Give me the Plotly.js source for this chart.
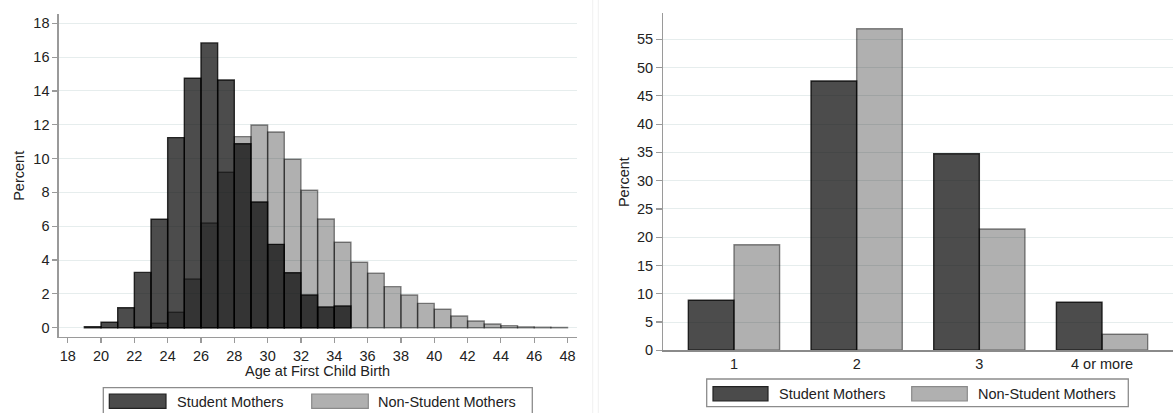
<!DOCTYPE html>
<html>
<head>
<meta charset="utf-8">
<script src="https://cdn.plot.ly/plotly-3.0.1.min.js"></script>
<style>html,body{margin:0;padding:0;background:#fff;}#chart{width:1173px;height:413px;}</style>
</head>
<body>
<div id="chart"></div>
<script>
// ---- Data: left panel (histogram, 1-year bins, value = bin start age) ----
const studentBinStart = [19,20,21,22,23,24,25,26,27,28,29,30,31,32,33,34];
const studentPct      = [0.06,0.32,1.18,3.27,6.41,11.24,14.75,16.84,14.65,10.88,7.43,4.93,3.25,1.93,1.22,1.28];
const nonStudentBinStart = [22,23,24,25,26,27,28,29,30,31,32,33,34,35,36,37,38,39,40,41,42,43,44,45,46,47];
const nonStudentPct      = [0.05,0.26,0.91,2.88,6.19,9.19,11.30,11.99,11.57,9.96,8.13,6.43,5.05,3.87,3.23,2.43,1.93,1.44,1.09,0.69,0.40,0.22,0.12,0.05,0.03,0.02];
const ageTicks = [18,20,22,24,26,28,30,32,34,36,38,40,42,44,46,48];

// ---- Data: right panel (number of children) ----
const childCategories = ['1','2','3','4 or more'];
const studentChildPct    = [8.84,47.62,34.77,8.49];
const nonStudentChildPct = [18.67,56.87,21.45,2.83];

const seriesNames = ['Student Mothers','Non-Student Mothers'];
const xTitleLeft = 'Age at First Child Birth';
const yTitle = 'Percent';

// ---- Styling ----
const W = 1173, H = 413;
const px = v => v / W;
const py = v => 1 - v / H;
const FONT = 'Liberation Sans, Arial, sans-serif';
const FS = 14.5;
const DARK_FILL = 'rgba(0,0,0,0.70)';
const DARK_LINE = 'rgba(0,0,0,0.78)';
const LIGHT_FILL = 'rgba(0,0,0,0.31)';
const LIGHT_LINE = 'rgba(0,0,0,0.45)';
const AXIS = '#9a9a9a';
const GRID = '#e6eded';
const TXT = '#222';
const BARW = 0.372;

const traces = [
  {type:'bar', x: studentBinStart, y: studentPct, offset:0, width:1, xaxis:'x', yaxis:'y',
   marker:{color:DARK_FILL, line:{color:DARK_LINE, width:1.4}}, name: seriesNames[0], showlegend:false},
  {type:'bar', x: nonStudentBinStart, y: nonStudentPct, offset:0, width:1, xaxis:'x', yaxis:'y',
   marker:{color:LIGHT_FILL, line:{color:LIGHT_LINE, width:1.4}}, name: seriesNames[1], showlegend:false},
  {type:'bar', x: childCategories, y: studentChildPct, offset:-BARW, width:BARW, xaxis:'x2', yaxis:'y2',
   marker:{color:DARK_FILL, line:{color:DARK_LINE, width:1.4}}, name: seriesNames[0], showlegend:false},
  {type:'bar', x: childCategories, y: nonStudentChildPct, offset:0, width:BARW, xaxis:'x2', yaxis:'y2',
   marker:{color:LIGHT_FILL, line:{color:LIGHT_LINE, width:1.4}}, name: seriesNames[1], showlegend:false}
];

const axBase = {showline:true, linecolor:AXIS, linewidth:1.3, zeroline:false, fixedrange:true,
  tickfont:{family:FONT, size:FS, color:TXT}, tickcolor:AXIS, tickwidth:1.2};

const shapes = [];
const annotations = [];
function rect(x0,y0,x1,y1,fill,line,lw){
  shapes.push({type:'rect', xref:'paper', yref:'paper', x0:px(x0), x1:px(x1), y0:py(y1), y1:py(y0),
    fillcolor:fill, line:{color:line, width:lw}, layer:'above'});
}
function text(x,y,t,opts){
  annotations.push(Object.assign({xref:'paper', yref:'paper', x:px(x), y:py(y), text:t, showarrow:false,
    font:{family:FONT, size:FS, color:TXT}, xanchor:'left', yanchor:'middle', borderpad:0}, opts||{}));
}
// panel separators
shapes.push({type:'line', xref:'paper', yref:'paper', x0:px(592.7), x1:px(592.7), y0:0, y1:1, line:{color:'#f0f0f0', width:1}});
shapes.push({type:'line', xref:'paper', yref:'paper', x0:px(598.3), x1:px(598.3), y0:0, y1:1, line:{color:'#f0f0f0', width:1}});

// left legend
rect(103.3, 387.7, 532.3, 425, '#ffffff', '#8c8c8c', 1.3);
rect(109.3, 394, 166, 408.3, '#4b4b4b', '#222', 1.2);
text(175.5, 401.5, seriesNames[0]);
rect(311.7, 394, 368.3, 408.3, '#b0b0b0', '#8a8a8a', 1.2);
text(377, 401.5, seriesNames[1]);
// right legend
rect(706.7, 379, 1128.3, 406.7, '#ffffff', '#8c8c8c', 1.3);
rect(713, 386.7, 768, 401, '#4b4b4b', '#222', 1.2);
text(777.5, 393.8, seriesNames[0]);
rect(911.7, 386.7, 967.3, 401, '#b0b0b0', '#8a8a8a', 1.2);
text(976.5, 393.8, seriesNames[1]);

// axis titles
text(18.3, 175.5, yTitle, {xanchor:'center', textangle:-90});
text(317.7, 370.7, xTitleLeft, {xanchor:'center'});
text(623.3, 181.8, yTitle, {xanchor:'center', textangle:-90});

const layout = {
  width: W, height: H,
  margin:{l:0, r:0, t:0, b:0},
  paper_bgcolor:'#ffffff', plot_bgcolor:'rgba(0,0,0,0)',
  barmode:'overlay',
  showlegend:false,
  font:{family:FONT, size:FS, color:TXT},
  xaxis: Object.assign({}, axBase, {domain:[px(58.7), px(576.7)], anchor:'y', range:[17.46, 48.55],
    tickmode:'array', tickvals: ageTicks, ticktext: ageTicks.map(String), ticks:'outside', ticklen:5, showgrid:false}),
  yaxis: Object.assign({}, axBase, {domain:[py(337), py(14)], anchor:'x', range:[-0.55, 18.55],
    tick0:0, dtick:2, ticks:'outside', ticklen:5, showgrid:true, gridcolor:GRID, gridwidth:1}),
  xaxis2: Object.assign({}, axBase, {domain:[px(663.3), px(1172.7)], anchor:'y2', type:'category',
    range:[-0.576, 3.576], ticks:'', showgrid:false, linecolor:'#8a8a8a'}),
  yaxis2: Object.assign({}, axBase, {domain:[py(350.3), py(13.3)], anchor:'x2', range:[0, 59.6],
    tick0:0, dtick:5, ticks:'outside', ticklen:6, showgrid:true, gridcolor:GRID, gridwidth:1}),
  shapes: shapes,
  annotations: annotations
};

Plotly.newPlot('chart', traces, layout, {staticPlot:true, displayModeBar:false});
</script>
</body>
</html>
